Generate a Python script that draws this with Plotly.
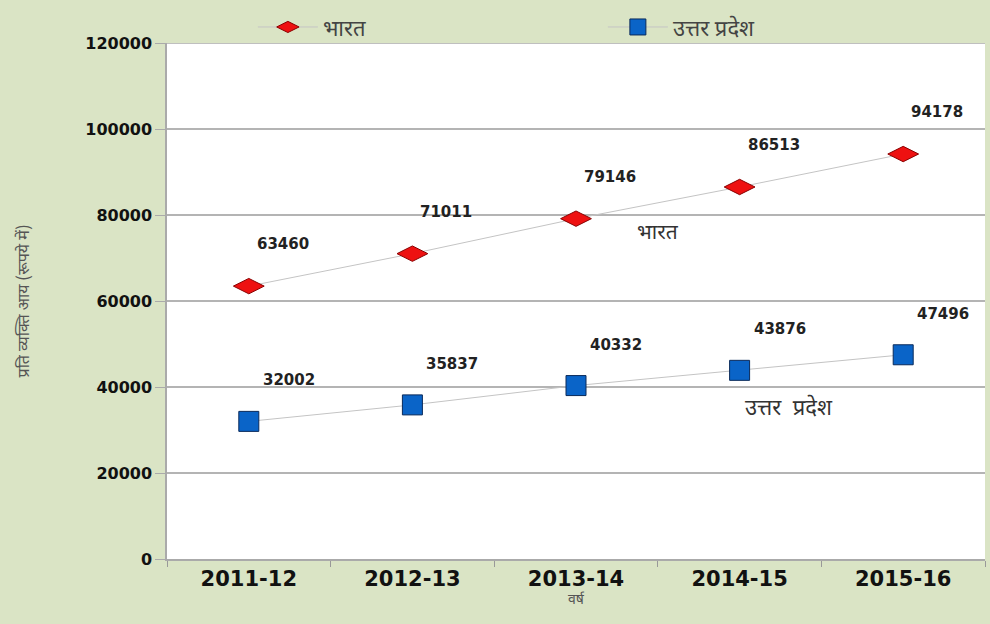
import plotly.graph_objects as go

years = ["2011-12", "2012-13", "2013-14", "2014-15", "2015-16"]
india = [63460, 71011, 79146, 86513, 94178]
up = [32002, 35837, 40332, 43876, 47496]
name_india = "भारत"
name_up = "उत्तर प्रदेश"
y_ticks = [0, 20000, 40000, 60000, 80000, 100000, 120000]

BG = "#dae4c5"
DEV = "Noto Sans Devanagari, Lohit Devanagari, Mangal, DejaVu Sans, sans-serif"
NUM = "DejaVu Sans, Arial, sans-serif"

fig = go.Figure()
fig.add_trace(go.Scatter(
    x=years, y=india, name=name_india, mode="lines+markers",
    line=dict(color="#c4c4c4", width=1),
    marker=dict(symbol="diamond-wide", size=22, color="#ee1111",
                line=dict(color="#8a0000", width=1)),
))
fig.add_trace(go.Scatter(
    x=years, y=up, name=name_up, mode="lines+markers",
    line=dict(color="#c4c4c4", width=1),
    marker=dict(symbol="square", size=20, color="#0a64c8",
                line=dict(color="#0a2a5a", width=1)),
))

for xv, yv in zip(years, india):
    fig.add_annotation(x=xv, y=yv, text=str(yv), showarrow=False,
                       xshift=34, yshift=42,
                       font=dict(family=NUM, size=15, color="#222", weight="bold"))
for xv, yv in zip(years, up):
    fig.add_annotation(x=xv, y=yv, text=str(yv), showarrow=False,
                       xshift=40, yshift=41,
                       font=dict(family=NUM, size=15, color="#222", weight="bold"))

fig.add_annotation(x=2.5, y=75600, text=name_india, showarrow=False,
                   font=dict(family=DEV, size=21, color="#333"))
fig.add_annotation(x=3.3, y=34900, text=name_up.replace(" ", "  "), showarrow=False,
                   font=dict(family=DEV, size=22, color="#333"))

fig.update_layout(
    width=990, height=624,
    paper_bgcolor=BG, plot_bgcolor="white",
    margin=dict(l=167, r=5, t=43, b=65),
    showlegend=True,
    legend=dict(orientation="h", x=0.105, y=0.99, xanchor="left", yanchor="bottom",
                entrywidth=275, entrywidthmode="pixels",
                font=dict(family=DEV, size=22, color="#444"),
                bgcolor="rgba(0,0,0,0)", itemwidth=60),
    xaxis=dict(
        type="category", tickson="boundaries", ticks="outside", ticklen=6,
        tickcolor="#999", showline=True, linecolor="#aaa", linewidth=1.5,
        showgrid=False,
        tickfont=dict(family=NUM, size=21, color="#111", weight="bold"),
        title=dict(text="वर्ष", font=dict(family=DEV, size=14, color="#555"), standoff=4),
        range=[-0.5, 4.5],
    ),
    yaxis=dict(
        range=[0, 120000], tickvals=y_ticks, ticks="outside", ticklen=10,
        tickcolor="#aaa", showline=True, linecolor="#aaa", linewidth=1.5,
        showgrid=True, gridcolor="#b4b4b4", gridwidth=1.5, zeroline=False,
        tickformat="d",
        tickfont=dict(family=NUM, size=16, color="#111", weight="bold"),
        title=dict(text="प्रति व्यक्ति आय (रूपये में)", font=dict(family=DEV, size=16, color="#555"),
                   standoff=52),
    ),
)
fig.add_shape(type="line", xref="paper", yref="y", x0=-0.01, x1=1, y0=120000, y1=120000,
              line=dict(color="#aaa", width=1.5))

fig.write_html("out.html", config={"displayModeBar": False},
               post_script="document.body.style.margin='0';")
